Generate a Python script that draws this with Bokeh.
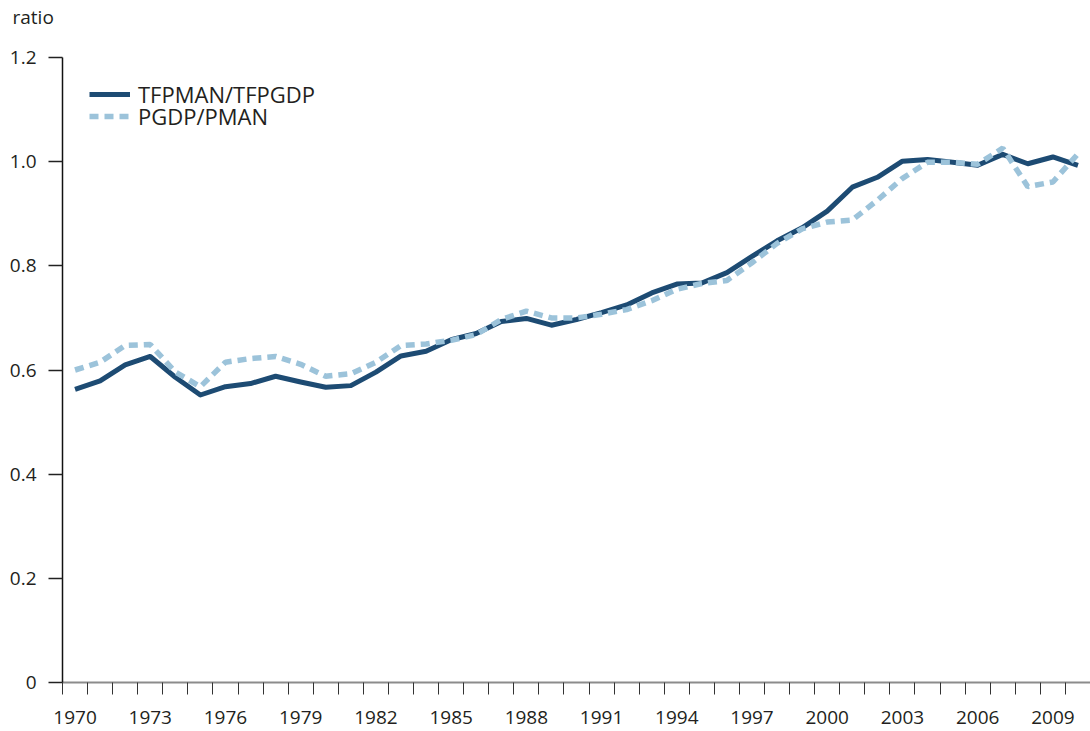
from bokeh.plotting import figure
from bokeh.models import FixedTicker, Legend, LegendItem, Range1d, Title
from bokeh.embed import file_html
from bokeh.resources import INLINE

years = list(range(1970, 2011))
tfp_ratio = [0.563, 0.579, 0.610, 0.626, 0.586, 0.552, 0.568, 0.574, 0.588, 0.577,
             0.567, 0.570, 0.596, 0.627, 0.636, 0.658, 0.670, 0.693, 0.699, 0.686,
             0.697, 0.710, 0.725, 0.748, 0.765, 0.767, 0.787, 0.818, 0.848, 0.873,
             0.905, 0.951, 0.970, 1.001, 1.004, 0.999, 0.993, 1.014, 0.996, 1.009,
             0.993]
price_ratio = [0.600, 0.615, 0.647, 0.649, 0.596, 0.568, 0.615, 0.622, 0.626, 0.611,
               0.588, 0.593, 0.615, 0.647, 0.650, 0.657, 0.668, 0.697, 0.713, 0.700,
               0.700, 0.707, 0.716, 0.733, 0.755, 0.766, 0.772, 0.806, 0.843, 0.871,
               0.884, 0.888, 0.926, 0.968, 0.999, 0.999, 0.995, 1.026, 0.952, 0.961,
               1.015]
series_names = ["TFPMAN/TFPGDP", "PGDP/PMAN"]
x_tick_years = list(range(1970, 2010, 3))
y_ticks = [0, 0.2, 0.4, 0.6, 0.8, 1.0, 1.2]
y_tick_labels = ["0", "0.2", "0.4", "0.6", "0.8", "1.0", "1.2"]
y_axis_title = "ratio"

FONT = "Open Sans"
TXT = "#231f20"
GRAY = "#8c8c8c"

p = figure(width=1090, height=731, output_backend="svg", toolbar_location=None,
           x_range=Range1d(years[0] - 0.5, years[-1] + 0.5),
           y_range=Range1d(0, 1.2),
           min_border_left=62, min_border_right=0, min_border_top=57,
           min_border_bottom=49)
p.outline_line_color = None
p.background_fill_color = "white"
p.border_fill_color = "white"

# "ratio" caption above the y axis (the figure title, outermost)
p.title.text = y_axis_title
p.title.align = "left"
p.title.offset = -50
p.title.standoff = 0
p.title.vertical_align = "middle"
p.title.text_font = FONT
p.title.text_font_size = "19px"
p.title.text_font_style = "normal"
p.title.text_color = TXT

# blank spacer between the frame and the caption
p.add_layout(Title(text=" ", text_color="white", text_font_size="10px",
                   standoff=14), "above")

r1 = p.line(years, tfp_ratio, line_color="#1d4b73", line_width=5, line_join="round")
r2 = p.line(years, price_ratio, line_color="#9cc3da", line_width=5.5,
            line_dash="9 6", line_cap="butt")

# x axis
minor = [y - 0.5 for y in years] + [years[-1] + 0.5]
p.xaxis.ticker = FixedTicker(ticks=x_tick_years, minor_ticks=minor)
p.xaxis.major_tick_out = 0
p.xaxis.major_tick_in = 0
p.xaxis.minor_tick_in = 0
p.xaxis.minor_tick_out = 12
p.xaxis.minor_tick_line_color = "#333333"
p.xaxis.minor_tick_line_width = 1
p.xaxis.axis_line_color = GRAY
p.xaxis.axis_line_width = 2
p.xaxis.major_label_standoff = 16
p.xaxis.major_label_text_font = FONT
p.xaxis.major_label_text_font_size = "19px"
p.xaxis.major_label_text_color = TXT

# y axis
p.yaxis.ticker = FixedTicker(ticks=y_ticks)
p.yaxis.major_label_overrides = {t: l for t, l in zip(y_ticks, y_tick_labels)}
p.yaxis.major_tick_out = 14
p.yaxis.major_tick_in = 0
p.yaxis.major_tick_line_color = "#222222"
p.yaxis.major_tick_line_width = 1.5
p.yaxis.axis_line_color = "#111111"
p.yaxis.axis_line_width = 1.5
p.yaxis.major_label_standoff = 12
p.yaxis.major_label_text_font = FONT
p.yaxis.major_label_text_font_size = "19px"
p.yaxis.major_label_text_color = TXT

p.xgrid.visible = False
p.ygrid.ticker = FixedTicker(ticks=[y_ticks[0], y_ticks[-1]])
p.ygrid.grid_line_color = GRAY
p.ygrid.grid_line_width = 2

legend_style = dict(padding=0, spacing=0, glyph_width=41, glyph_height=20,
                    label_height=20, label_standoff=8, border_line_color=None,
                    background_fill_alpha=0, label_text_font=FONT,
                    label_text_font_size="22px", label_text_color=TXT)
legend1 = Legend(items=[LegendItem(label=series_names[0], renderers=[r1])],
                 location=(27, 573), **legend_style)
legend2 = Legend(items=[LegendItem(label=series_names[1], renderers=[r2])],
                 location=(27, 551), **legend_style)
p.add_layout(legend1)
p.add_layout(legend2)

open("out.html", "w").write(file_html(p, INLINE))
